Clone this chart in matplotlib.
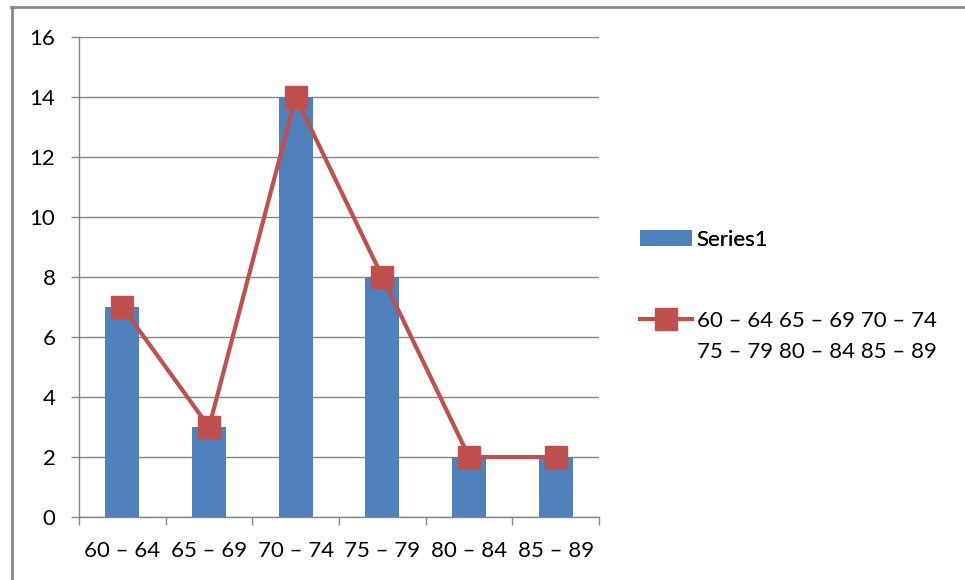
import matplotlib.pyplot as plt
from matplotlib.lines import Line2D

plt.rcParams['font.family'] = ['Lato', 'DejaVu Sans']

# data
categories = ["60 – 64", "65 – 69", "70 – 74", "75 – 79", "80 – 84", "85 – 89"]
counts = [7, 3, 14, 8, 2, 2]
line_label = ["60 – 64 65 – 69 70 – 74", "75 – 79 80 – 84 85 – 89"]

blue = "#4F81BD"
red = "#C0504D"
grid_gray = "#868686"
fs = 16

fig = plt.figure(figsize=(9.65, 5.8), dpi=100)
ax = fig.add_axes([0.0819, 0.1086, 0.5389, 0.8276])

x = list(range(len(categories)))
bars = ax.bar(x, counts, width=0.39, color=blue, label="Series1", zorder=2)
line, = ax.plot(x, counts, color=red, lw=3, marker="s", markersize=15.5,
                label=line_label[0], zorder=3)

ax.set_xlim(-0.5, len(categories) - 0.5)
ax.set_ylim(0, 16)
ax.set_yticks(range(0, 17, 2))
ax.yaxis.grid(True, color=grid_gray, lw=1, zorder=0)
ax.set_axisbelow(True)

ax.set_xticks(x)
ax.set_xticklabels(categories, fontsize=fs)
ax.tick_params(axis="x", length=0, pad=17)
ax.set_xticks([i - 0.5 for i in range(len(categories) + 1)], minor=True)
ax.tick_params(axis="x", which="minor", length=6, color=grid_gray, width=1)
ax.tick_params(axis="y", labelsize=fs, length=6, color=grid_gray, width=1, pad=11)

for s in ["top", "right"]:
    ax.spines[s].set_visible(False)
for s in ["left", "bottom"]:
    ax.spines[s].set_color(grid_gray)
    ax.spines[s].set_linewidth(1)

# legend entries
leg_x = 640 / 965
leg1 = fig.legend(handles=[bars], loc="center left",
                  bbox_to_anchor=(leg_x, 1 - 240 / 580), frameon=False,
                  fontsize=fs, handlelength=2.35, handletextpad=0.2,
                  borderpad=0, borderaxespad=0)
leg2 = fig.legend(handles=[line], loc="center left",
                  bbox_to_anchor=(leg_x, 1 - 321 / 580), frameon=False,
                  fontsize=fs, handlelength=2.35, handletextpad=0.2,
                  borderpad=0, borderaxespad=0)
fig.add_artist(leg1)
fig.text(697 / 965, 1 - 352 / 580, line_label[1], fontsize=fs,
         va="center", ha="left")

# outer chart border (top and left visible)
fig.add_artist(Line2D([11 / 965, 1], [1 - 7 / 580, 1 - 7 / 580],
                      transform=fig.transFigure, color="#888888", lw=2))
fig.add_artist(Line2D([12 / 965, 12 / 965], [0, 1 - 7 / 580],
                      transform=fig.transFigure, color="#888888", lw=2))

fig.savefig("out.png", dpi=100)
